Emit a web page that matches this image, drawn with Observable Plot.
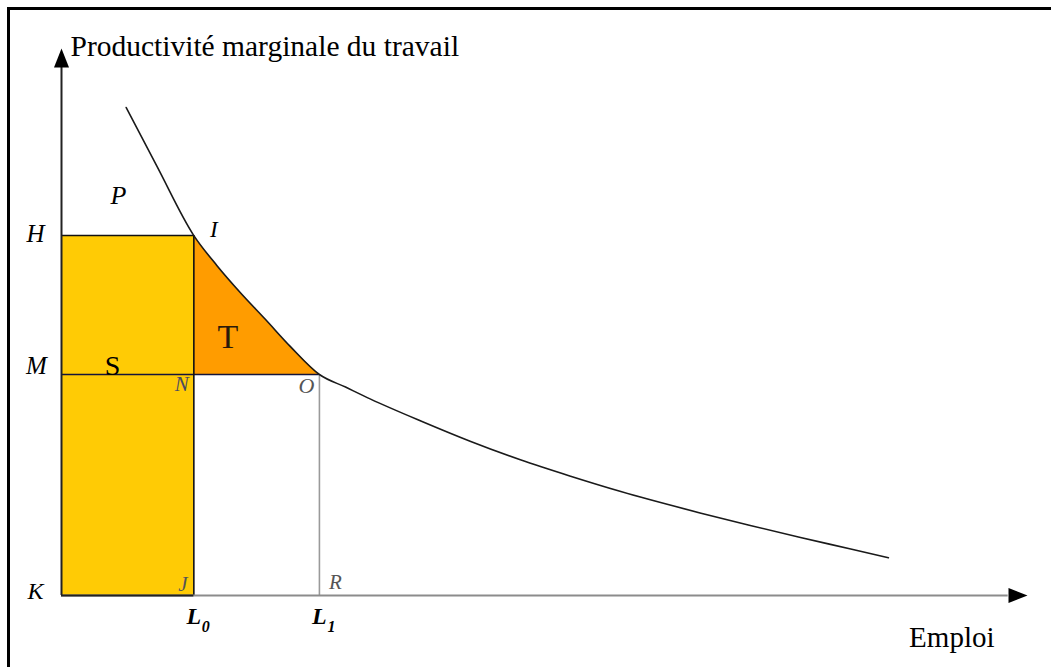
<!DOCTYPE html>
<html>
<head>
<meta charset="utf-8">
<script src="https://cdn.jsdelivr.net/npm/d3@7"></script>
<script src="https://cdn.jsdelivr.net/npm/@observablehq/plot@0.6"></script>
<style>
  html, body { margin: 0; padding: 0; background: #fff; }
  #wrap { position: relative; width: 1051px; height: 667px; overflow: hidden; }
  #border { position: absolute; left: 7px; top: 7px; width: 1100px; height: 700px;
            border-left: 3px solid #000; border-top: 3px solid #000; box-sizing: border-box; }
  #chart { position: absolute; left: 0; top: 0; }
</style>
</head>
<body>
<div id="wrap"><div id="border"></div><div id="chart"></div></div>
<script>
// ---- data ----
const curveX = [6.7, 9.9, 13.7, 16.1, 18.5, 21.1, 23.7, 26.7, 29.4, 32.0, 37.2, 42.3, 47.5, 52.7, 57.9, 66.1, 71.3, 76.5, 81.7, 85.6];
const curveY = [89.2, 78.4, 65.8, 60.3, 55.4, 50.5, 45.5, 40.4, 38.1, 35.9, 31.9, 28.2, 24.8, 21.8, 19.0, 15.1, 12.8, 10.6, 8.5, 6.9];
const L0 = 13.7, L1 = 26.7;      // employment levels
const H = 65.8, M = 40.4;        // marginal productivity levels
const xMax = 100, yMax = 100;
const yAxisTitle = "Productivité marginale du travail";
const xAxisTitle = "Emploi";
const tickLabels = ["L", "L"];
const tickSubs = ["0", "1"];
const tickValues = [L0, L1];

const curve = curveX.map((x, i) => ({x, y: curveY[i]}));
const triangle = curve.filter(d => d.x >= L0 && d.x <= L1);
const ticks = tickValues.map((x, i) => ({x, label: tickLabels[i], sub: tickSubs[i]}));

// arrowhead symbol: tip at origin, pointing up
const arrowHead = {
  draw(ctx) {
    ctx.moveTo(0, 0);
    ctx.lineTo(7.5, 19);
    ctx.lineTo(-7.5, 19);
    ctx.closePath();
  }
};

const serif = "'Liberation Serif', 'Times New Roman', serif";
const pt = (x, y) => [{x, y}];

const chart = Plot.plot({
  width: 1051,
  height: 667,
  marginLeft: 61,
  marginRight: 24,
  marginTop: 48,
  marginBottom: 72,
  x: {domain: [0, xMax], axis: null},
  y: {domain: [0, yMax], axis: null},
  style: {background: "transparent", overflow: "visible", fontFamily: serif},
  marks: [
    // area S (rectangle) and T (triangle under the curve)
    Plot.rect([{x1: 0, x2: L0, y1: 0, y2: H}], {x1: "x1", x2: "x2", y1: "y1", y2: "y2", fill: "#FFCB05"}),
    Plot.areaY(triangle, {x: "x", y1: M, y2: "y", curve: "monotone-x", fill: "#FF9C00"}),
    // guide lines
    Plot.ruleY([H], {x1: 0, x2: L0, stroke: "#111", strokeWidth: 1.6}),
    Plot.ruleY([M], {x1: 0, x2: L1, stroke: "#14143a", strokeWidth: 1.6}),
    Plot.ruleX([L0], {y1: 0, y2: H, stroke: "#111", strokeWidth: 1.6}),
    Plot.ruleX([L1], {y1: 0, y2: M, stroke: "#9a9a9a", strokeWidth: 1.6}),
    // axes
    Plot.ruleY([0], {x1: 0, x2: xMax - 2, stroke: "#8c8c8c", strokeWidth: 2}),
    Plot.ruleY([0], {x1: 0, x2: L0, stroke: "#222", strokeWidth: 2}),
    Plot.ruleX([0], {y1: 0, y2: yMax - 2, stroke: "#222", strokeWidth: 2}),
    Plot.dot(pt(xMax, 0), {x: "x", y: "y", symbol: arrowHead, rotate: 90, fill: "#000", stroke: "none"}),
    Plot.dot(pt(0, yMax), {x: "x", y: "y", symbol: arrowHead, fill: "#000", stroke: "none"}),
    // curve
    Plot.line(curve, {x: "x", y: "y", curve: "monotone-x", stroke: "#1a1a1a", strokeWidth: 1.6}),
    // axis titles
    Plot.text(pt(0, yMax), {x: "x", y: "y", text: [yAxisTitle], textAnchor: "start", lineAnchor: "bottom", dx: 9, dy: 7, fontSize: 29.5, fill: "#000"}),
    Plot.text(pt(xMax, 0), {x: "x", y: "y", text: [xAxisTitle], textAnchor: "end", lineAnchor: "middle", dx: -33, dy: 42, fontSize: 29, fill: "#000"}),
    // tick labels L0, L1
    Plot.text(ticks, {x: "x", y: 0, text: "label", dx: 0, dy: 21, fontSize: 24, fontWeight: "bold", fontStyle: "italic", fill: "#000"}),
    Plot.text(ticks, {x: "x", y: 0, text: "sub", dx: 12, dy: 31, fontSize: 16, fontWeight: "bold", fontStyle: "italic", fill: "#000"}),
    // point labels
    Plot.text(pt(0, H), {x: "x", y: "y", text: ["H"], dx: -26, dy: -2, fontSize: 25, fontStyle: "italic", fill: "#000"}),
    Plot.text(pt(0, M), {x: "x", y: "y", text: ["M"], dx: -25, dy: -9, fontSize: 25, fontStyle: "italic", fill: "#000"}),
    Plot.text(pt(0, 0), {x: "x", y: "y", text: ["K"], dx: -26, dy: -4, fontSize: 24, fontStyle: "italic", fill: "#000"}),
    Plot.text(pt(0, H), {x: "x", y: "y", text: ["P"], dx: 57, dy: -40, fontSize: 26, fontStyle: "italic", fill: "#000"}),
    Plot.text(pt(L0, H), {x: "x", y: "y", text: ["I"], dx: 20, dy: -6, fontSize: 23, fontStyle: "italic", fill: "#000"}),
    Plot.text(pt(L0, M), {x: "x", y: "y", text: ["N"], dx: -12, dy: 10, fontSize: 21, fontStyle: "italic", fill: "#4a4a60"}),
    Plot.text(pt(L1, M), {x: "x", y: "y", text: ["O"], dx: -13, dy: 11, fontSize: 22, fontStyle: "italic", fill: "#555"}),
    Plot.text(pt(L0, 0), {x: "x", y: "y", text: ["J"], dx: -11, dy: -11, fontSize: 21, fontStyle: "italic", fill: "#555"}),
    Plot.text(pt(L1, 0), {x: "x", y: "y", text: ["R"], dx: 16, dy: -13, fontSize: 21, fontStyle: "italic", fill: "#555"}),
    // area labels
    Plot.text(pt(0, M), {x: "x", y: "y", text: ["S"], dx: 51, dy: -8, fontSize: 28, fill: "#000"}),
    Plot.text(pt(L0, M), {x: "x", y: "y", text: ["T"], dx: 34, dy: -37, fontSize: 34, fill: "#2a1a0a"})
  ]
});
document.getElementById("chart").appendChild(chart);
</script>
</body>
</html>
